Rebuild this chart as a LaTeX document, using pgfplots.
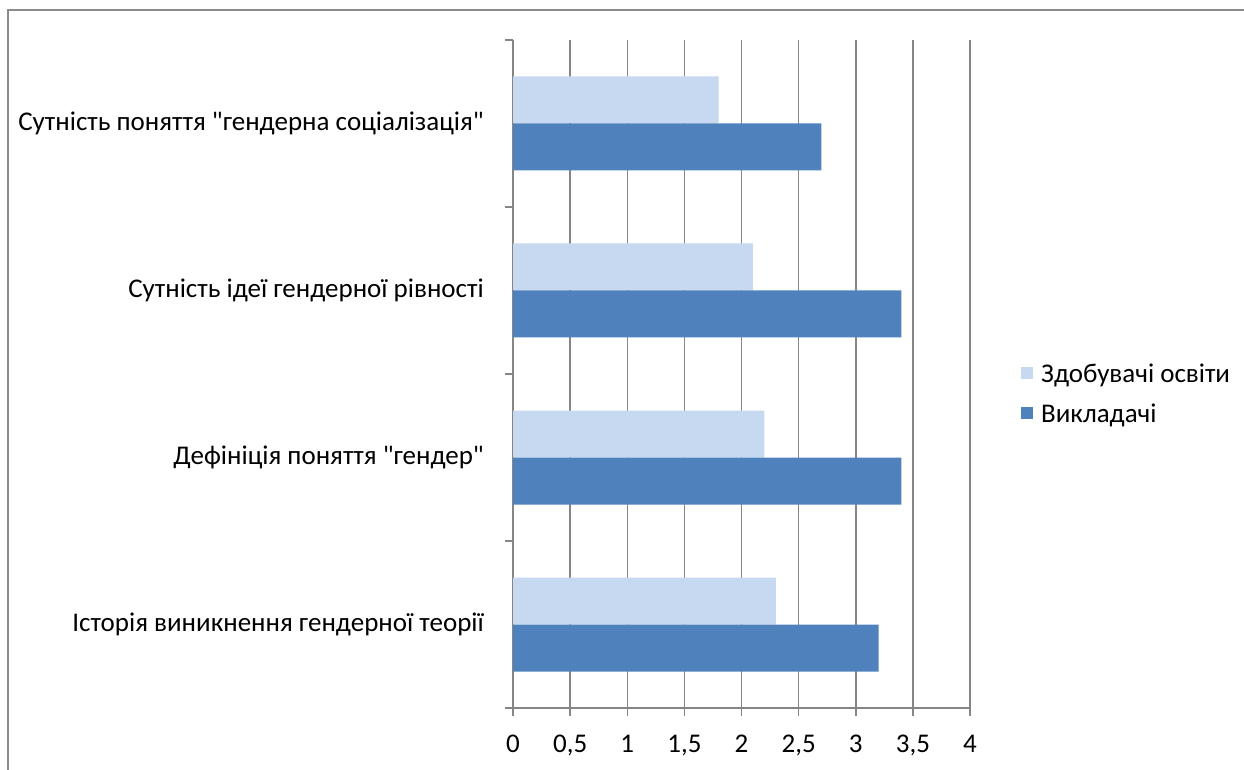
\documentclass[border=0pt]{standalone}
\usepackage{fontspec}
\setmainfont{Carlito}[Ligatures=TeXOff]
\usepackage{pgfplots}
\pgfplotsset{compat=1.18}
\definecolor{lightbar}{HTML}{C6D9F1}
\definecolor{darkbar}{HTML}{4F81BD}
\definecolor{axisgray}{HTML}{868686}
\definecolor{framegray}{HTML}{8C8C8C}

\begin{document}
\begin{tikzpicture}[x=1pt,y=1pt,font=\fontsize{27}{32}\selectfont]
\useasboundingbox (0,0) rectangle (1244,769);
% chart area border
\draw[framegray, line width=2pt] (8,-2) -- (8,759) -- (1246,759);
\begin{axis}[
  at={(513pt,61pt)}, anchor=south west,
  scale only axis, width=457pt, height=668pt,
  xbar, bar width=47pt,
  xmin=0, xmax=4, ymin=-0.5, ymax=3.5,
  axis x line=bottom, axis y line=left,
  axis line style={axisgray, line width=1.5pt, -},
  xtick={0,0.5,1,1.5,2,2.5,3,3.5,4},
  xticklabels={0,{0,5},1,{1,5},2,{2,5},3,{3,5},4},
  xmajorgrids, grid style={axisgray, line width=1.5pt},
  tick align=outside, major tick length=8pt,
  tick style={axisgray, line width=1.5pt},
  x tick label style={inner sep=0pt, anchor=north, yshift=-19pt},
  ytick={-0.5,0.5,1.5,2.5,3.5}, yticklabels={},
  extra y ticks={0,1,2,3},
  extra y tick labels={Історія виникнення гендерної теорії,
    Дефініція поняття "гендер",
    Сутність ідеї гендерної рівності,
    Сутність поняття "гендерна соціалізація"},
  extra y tick style={major tick length=0pt, grid=none,
    y tick label style={inner sep=0pt, anchor=east, xshift=-29pt}},
  legend style={at={(1.1116,0.4716)}, anchor=west, draw=none, fill=none,
    inner sep=0pt, row sep=21pt,
    nodes={inner sep=0pt, anchor=west, text depth=0pt}},
  legend cell align=left,
  legend image code/.code={\fill[#1] (0pt,-6pt) rectangle (12pt,6pt);},
]
\addplot[fill=lightbar, draw=none, bar shift=23.5pt]
  coordinates {(2.3,0) (2.2,1) (2.1,2) (1.8,3)};
\addlegendentry{\hspace{8pt}Здобувачі освіти}
\addplot[fill=darkbar, draw=none, bar shift=-23.5pt]
  coordinates {(3.2,0) (3.4,1) (3.4,2) (2.7,3)};
\addlegendentry{\hspace{8pt}Викладачі}
\end{axis}
\end{tikzpicture}
\end{document}
